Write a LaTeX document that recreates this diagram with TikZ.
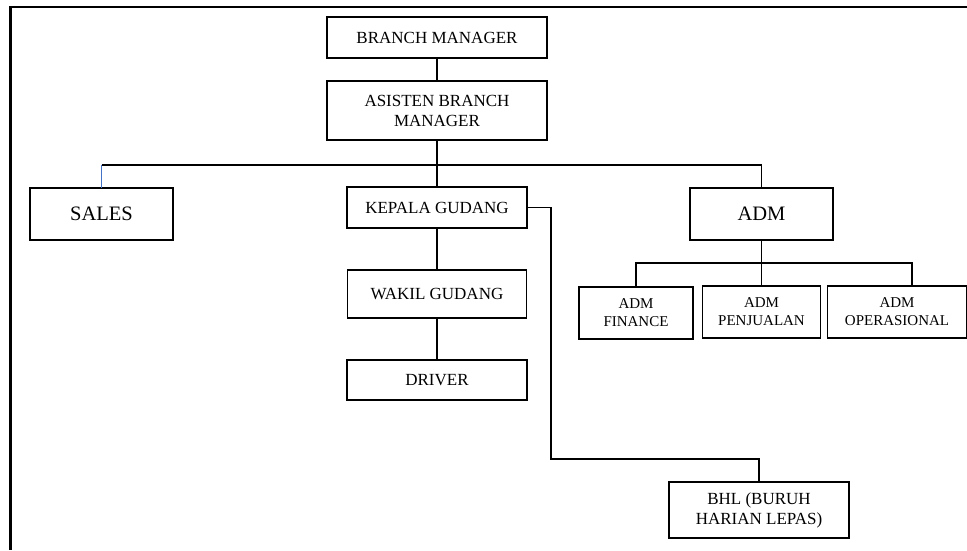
\documentclass[tikz,border=0pt]{standalone}
\usepackage{fontspec}
\setmainfont{Liberation Serif}
\definecolor{linkblue}{RGB}{68,114,196}
\begin{document}
\begin{tikzpicture}[x=1pt, y=-1pt,
        box/.style={draw, line width=1.3pt, inner sep=0pt, outer sep=0pt, align=center,
                font=\fontsize{17}{20}\selectfont},
        bigbox/.style={box, font=\fontsize{20.5}{24}\selectfont},
        smallbox/.style={box, font=\fontsize{15}{18}\selectfont},
        link/.style={line width=1.3pt}]
            \useasboundingbox (0,0) rectangle (967,550);
            \draw[line width=2.6pt] (967,7) -- (10.5,7) -- (10.5,550);

            \node (bm) at (437,37.5) [box, minimum width=220pt, minimum height=41pt] {BRANCH MANAGER};
            \node (abm) at (437,110.5) [box, minimum width=220pt, minimum height=59pt] {ASISTEN BRANCH\\MANAGER};
            \node (sales) at (101.5,214) [bigbox, minimum width=143pt, minimum height=52pt] {SALES};
            \node (kg) at (437,207.5) [box, minimum width=180pt, minimum height=41pt] {KEPALA GUDANG};
            \node (wg) at (437,294) [box, minimum width=179pt, minimum height=48pt] {WAKIL GUDANG};
            \node (drv) at (437,380) [box, minimum width=180pt, minimum height=40pt] {DRIVER};
            \node (adm) at (761.5,214) [bigbox, minimum width=143pt, minimum height=52pt] {ADM};
            \node (admf) at (636,313) [smallbox, minimum width=114pt, minimum height=52pt] {ADM\\FINANCE};
            \node (admp) at (761.5,312) [smallbox, minimum width=118pt, minimum height=52pt] {ADM\\PENJUALAN};
            \node (admo) at (897,312) [smallbox, minimum width=139pt, minimum height=52pt] {ADM\\OPERASIONAL};
            \node (bhl) at (759,510) [box, minimum width=180pt, minimum height=56pt] {BHL (BURUH\\HARIAN LEPAS)};

            \coordinate (bus) at (437,165);
            \coordinate (admbus) at (761.5,263);
            \coordinate (opdrop) at (912,286);
            \coordinate (bhlturn) at (551,459);

            \draw[link] (bm) -- (abm);
            \draw[link] (abm) -- (kg);
            \draw[link, linkblue] (sales.north) -- (sales.north |- bus);
            \draw[link] (sales.north |- bus) -- (adm.north |- bus) -- (adm.north);
            \draw[link] (kg) -- (wg);
            \draw[link] (wg) -- (drv);
            \draw[link] (kg.east) -| (bhlturn) -| (bhl.north);
            \draw[link] (adm) -- (admbus);
            \draw[link] (admf.north) |- (admbus) -| (opdrop);
            \draw[link] (admbus) -- (admp.north);
        \end{tikzpicture}
\end{document}
